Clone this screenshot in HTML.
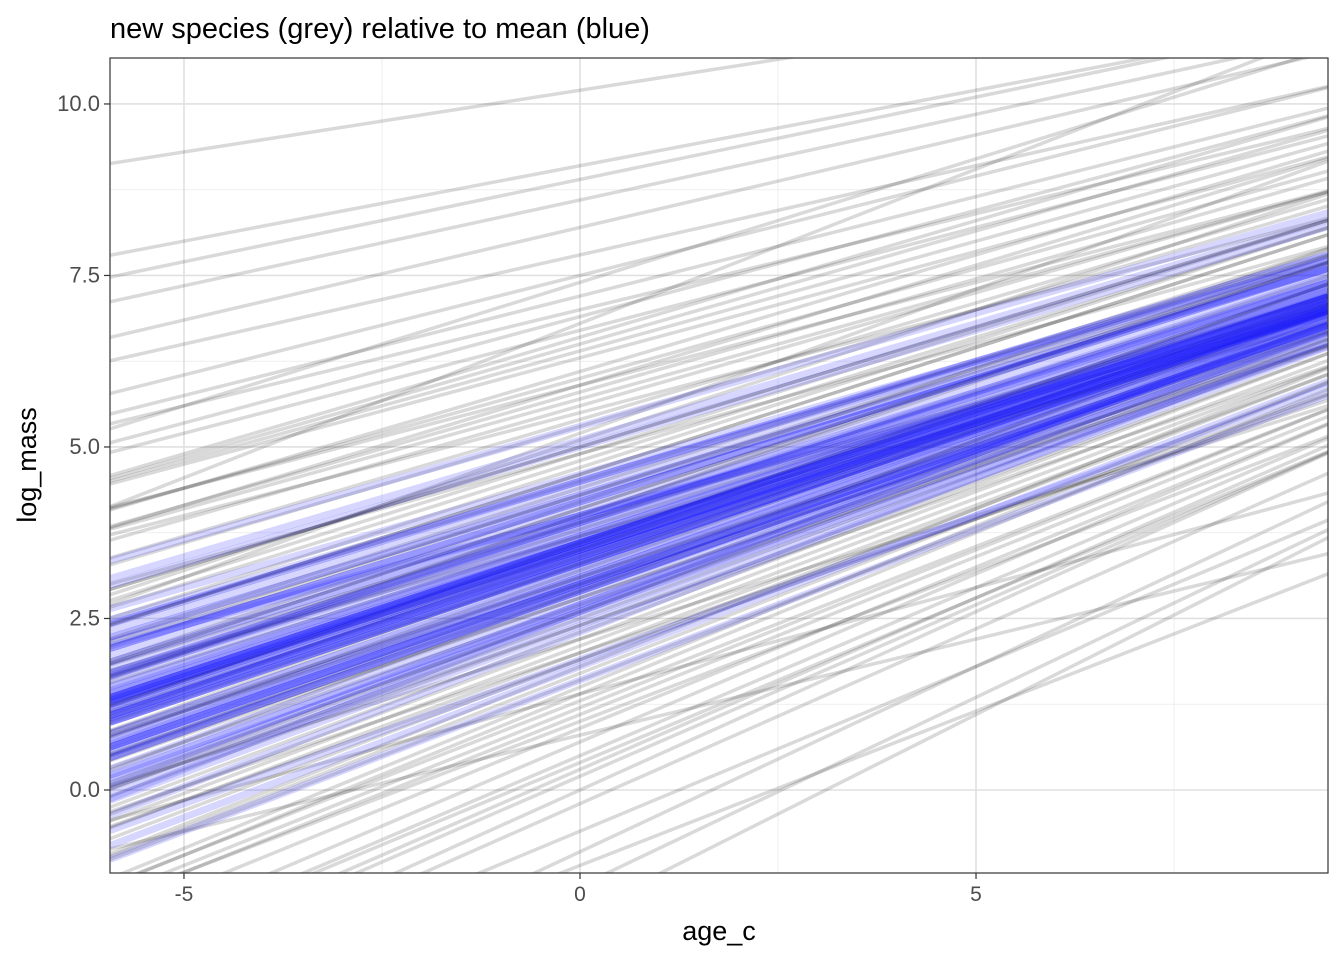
<!DOCTYPE html>
<html><head><meta charset="utf-8"><style>
html,body{margin:0;background:#fff;overflow:hidden;width:1344px;height:960px;}
svg{display:block;font-family:"Liberation Sans",Arial,sans-serif;}
</style></head><body>
<svg id="chart" width="1344" height="960">
<text x="110" y="38" font-size="29" fill="#000">new species (grey) relative to mean (blue)</text>
<defs><clipPath id="clip"><rect x="110" y="58" width="1218" height="815"/></clipPath></defs>
<rect x="110" y="58" width="1218" height="815" fill="#fff"/>
<g id="grid"></g>
<g id="lines" clip-path="url(#clip)"></g>
<rect x="110" y="58" width="1218" height="815" fill="none" stroke="#333" stroke-width="1.2"/>
<g id="axes"></g>
<text x="719" y="940" font-size="27" text-anchor="middle">age_c</text>
<text transform="translate(36,465) rotate(-90)" font-size="27" text-anchor="middle">log_mass</text>
</svg>
<script>
const xTicks=[-5,0,5];
const xMinor=[-2.5,2.5,7.5];
const yTicks=[0,2.5,5,7.5,10];
const yMinor=[1.25,3.75,6.25,8.75];
const yTickLabels=["0.0","2.5","5.0","7.5","10.0"];
const greyIntercepts=[3.1,5.2,1.4,6.8,2.2,4.0,0.3,3.7,7.5,2.9,4.6,1.9,5.9,-0.6,3.3,4.9,2.6,8.2,1.1,3.9,6.1,2.4,4.3,0.9,5.5,3.0,-1.4,4.7,2.0,6.5,3.5,1.6,5.0,7.0,2.7,4.1,0.5,3.8,5.7,2.3,9.1,1.3,4.4,3.2,6.3,0.0,2.8,5.3,3.6,1.8,4.8,7.8,2.5,3.4,-0.2,5.8,1.0,4.2,6.7,2.1,3.0,8.6,1.5,4.5,2.9,5.1,0.7,3.7,6.0,2.6,4.0,-0.9,3.3,5.4,1.7,7.2,2.2,4.6,3.9,0.4,5.6,2.8,6.9,1.2,3.5,4.9,-1.8,2.4,5.9,3.1,10.2,1.9,4.3,0.2,6.4,3.6,2.0,5.0,1.4,4.1,8.9,-1.1,6.6,11.3,0.8,7.4];
const greySlopes=[0.38,0.42,0.31,0.45,0.36,0.40,0.50,0.33,0.29,0.44,0.37,0.41,0.35,0.48,0.39,0.32,0.43,0.27,0.46,0.38,0.34,0.40,0.36,0.47,0.30,0.42,0.55,0.37,0.39,0.33,0.41,0.44,0.35,0.28,0.40,0.38,0.49,0.36,0.32,0.43,0.22,0.45,0.37,0.41,0.31,0.52,0.39,0.34,0.40,0.46,0.36,0.26,0.42,0.38,0.51,0.33,0.44,0.39,0.30,0.43,0.37,0.25,0.47,0.35,0.40,0.38,0.49,0.36,0.32,0.42,0.39,0.54,0.41,0.34,0.45,0.29,0.43,0.37,0.35,0.48,0.33,0.40,0.31,0.46,0.38,0.36,0.58,0.42,0.30,0.39,0.18,0.44,0.37,0.50,0.32,0.40,0.43,0.35,0.47,0.38,0.24,0.45,0.34,0.10,0.28,0.36];
const blueIntercepts=[3.4,4.1,2.6,3.6,4.5,3.0,3.5,2.3,3.9,5.1,3.2,2.8,3.7,4.2,2.7,3.3,3.6,4.6,2.5,3.5,4.0,3.0,3.4,4.3,1.8,3.6,3.9,3.1,4.5,2.9,3.5,2.6,3.8,3.3,5.3,3.0,3.4,4.0,2.7,3.6,4.2,3.1,3.5,2.4,3.9,3.3,4.4,2.9,3.6,3.4,1.6,3.7,4.0,3.0,3.5,4.3,2.7,3.3,3.9,3.6,3.2,5.0,2.9,3.5,2.6,3.7,3.4,4.2,3.0,3.6,3.3,1.9,4.0,3.5,4.5,3.1,3.8,2.9,3.4,3.6];
const blueSlopes=[0.38,0.36,0.41,0.39,0.35,0.40,0.37,0.45,0.38,0.34,0.40,0.42,0.37,0.36,0.44,0.39,0.38,0.33,0.43,0.37,0.31,0.40,0.39,0.35,0.44,0.38,0.37,0.41,0.34,0.40,0.38,0.46,0.36,0.39,0.33,0.41,0.38,0.32,0.42,0.37,0.36,0.40,0.39,0.43,0.36,0.38,0.35,0.41,0.37,0.39,0.44,0.38,0.36,0.40,0.37,0.35,0.42,0.39,0.37,0.38,0.40,0.34,0.41,0.38,0.43,0.37,0.39,0.36,0.40,0.38,0.39,0.42,0.36,0.38,0.35,0.40,0.37,0.41,0.39,0.38];
const X0=110,X1=1328,Y0=58,Y1=873;
const xMin=-5.934,xMax=9.444,yMin=-1.21,yMax=10.67;
const sx=v=>X0+(v-xMin)/(xMax-xMin)*(X1-X0);
const sy=v=>Y1-(v-yMin)/(yMax-yMin)*(Y1-Y0);
const NS="http://www.w3.org/2000/svg";
function mk(tag,attrs,parent){const e=document.createElementNS(NS,tag);for(const k in attrs)e.setAttribute(k,attrs[k]);parent.appendChild(e);return e;}
const grid=document.getElementById('grid'),lines=document.getElementById('lines'),axes=document.getElementById('axes');
xMinor.forEach(v=>{const l=mk('line',{x1:sx(v),x2:sx(v),y1:Y0,y2:Y1,stroke:'#ebebeb','stroke-width':0.8},grid);

});
yMinor.forEach(v=>{const l=mk('line',{x1:X0,x2:X1,y1:sy(v),y2:sy(v),stroke:'#ebebeb','stroke-width':0.8},grid);

});
xTicks.forEach(v=>{const l=mk('line',{x1:sx(v),x2:sx(v),y1:Y0,y2:Y1,stroke:'#e0e0e0','stroke-width':1.6},grid);


const t=mk('line',{x1:sx(v),x2:sx(v),y1:Y1,y2:Y1+6,stroke:'#333','stroke-width':1.2},axes);


const tx=mk('text',{x:sx(v),y:Y1+28,'font-size':21,fill:'#4d4d4d','text-anchor':'middle'},axes);tx.textContent=String(v);

});
yTicks.forEach((v,i)=>{const l=mk('line',{x1:X0,x2:X1,y1:sy(v),y2:sy(v),stroke:'#e0e0e0','stroke-width':1.6},grid);


const t=mk('line',{x1:X0-6,x2:X0,y1:sy(v),y2:sy(v),stroke:'#333','stroke-width':1.2},axes);


const tx=mk('text',{x:X0-10,y:sy(v)+7,'font-size':22,fill:'#4d4d4d','text-anchor':'end'},axes);tx.textContent=yTickLabels[i];

});
greyIntercepts.forEach((a,i)=>{const b=greySlopes[i];
const l=mk('line',{x1:sx(xMin),y1:sy(a+b*xMin),x2:sx(xMax),y2:sy(a+b*xMax),stroke:'#000','stroke-opacity':0.15,'stroke-width':3.5},lines);

});
blueIntercepts.forEach((a,i)=>{const b=blueSlopes[i];
const l=mk('line',{x1:sx(xMin),y1:sy(a+b*xMin),x2:sx(xMax),y2:sy(a+b*xMax),stroke:'#1a1aff','stroke-opacity':0.18,'stroke-width':7},lines);

});
</script>
</body></html>
